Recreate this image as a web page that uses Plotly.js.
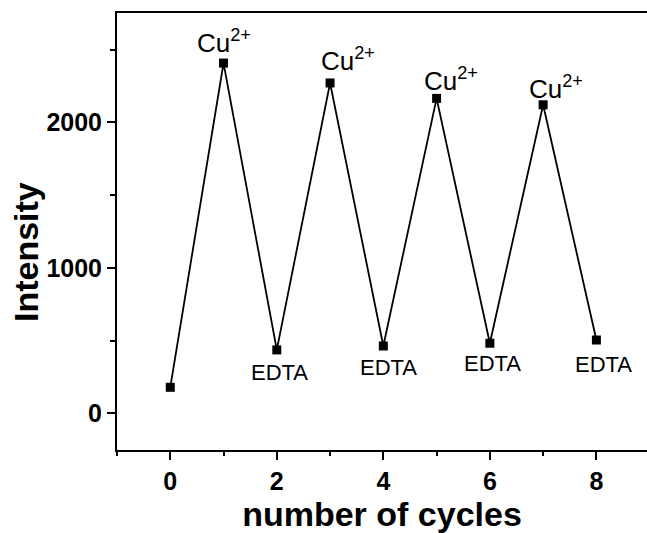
<!DOCTYPE html>
<html>
<head>
<meta charset="utf-8">
<script src="https://cdn.plot.ly/plotly-3.0.1.min.js"></script>
<style>
  html, body { margin: 0; padding: 0; background: #fff; overflow: hidden; }
  #chart { width: 647px; height: 533px; }
</style>
</head>
<body>
<div id="chart"></div>
<script>
// ---- data ----
const cycles    = [0, 1, 2, 3, 4, 5, 6, 7, 8];
const intensity = [179, 2408, 436, 2271, 463, 2165, 482, 2121, 504];
const cuLabel   = "Cu<sup>2+</sup>";
const edtaLabel = "EDTA";
const xTickVals = [0, 2, 4, 6, 8];
const yTickVals = [0, 1000, 2000];
const xTitle = "number of cycles";
const yTitle = "Intensity";

// label placement (pixel offsets from each marker)
const cuOffsets   = [[0, 10], [18, 11.6], [14.5, 7], [13, 5.7]];   // [xshift, baseline above marker]
const edtaOffsets = [[3, 30.7], [5, 30], [3, 28.7], [7, 33.3]];    // [xshift, baseline below marker]

const FONT = "Liberation Sans, Arial, Helvetica, sans-serif";
const cuSize = 26, edtaSize = 22;

const annotations = [];
let ci = 0, ei = 0;
cycles.forEach((c, i) => {
  if (i === 0) return;
  if (i % 2 === 1) {
    const o = cuOffsets[ci++];
    annotations.push({
      x: c, y: intensity[i], xref: "x", yref: "y",
      text: cuLabel, showarrow: false,
      xanchor: "center", yanchor: "bottom",
      xshift: o[0], yshift: o[1] - 0.212 * cuSize - 1,
      font: { family: FONT, size: cuSize, color: "#000" }
    });
  } else {
    const o = edtaOffsets[ei++];
    annotations.push({
      x: c, y: intensity[i], xref: "x", yref: "y",
      text: edtaLabel, showarrow: false,
      xanchor: "center", yanchor: "top",
      xshift: o[0], yshift: -(o[1] - 0.905 * edtaSize - 1) + 2,
      font: { family: FONT, size: edtaSize, color: "#000" }
    });
  }
});

// y-axis title drawn as a rotated annotation so it can sit where the reference has it
annotations.push({
  x: -0.1717, y: 0.453, xref: "paper", yref: "paper",
  text: yTitle, showarrow: false, textangle: -90,
  xanchor: "center", yanchor: "middle",
  font: { family: FONT, size: 34, color: "#000", weight: "bold" }
});

const trace = {
  x: cycles, y: intensity,
  type: "scatter", mode: "lines+markers",
  line: { color: "#000", width: 1.8 },
  marker: { symbol: "square", size: 9, color: "#000" },
  showlegend: false, hoverinfo: "x+y"
};

const layout = {
  width: 647, height: 533,
  margin: { l: 117, r: 0, t: 13, b: 83, pad: 0 },
  paper_bgcolor: "#fff", plot_bgcolor: "#fff",
  font: { family: FONT, color: "#000" },
  showlegend: false,
  xaxis: {
    range: [-1, 8.95],
    tickmode: "array", tickvals: xTickVals,
    ticks: "outside", ticklen: 8, tickwidth: 2, tickcolor: "#000",
    minor: { dtick: 1, tick0: 0, ticks: "outside", ticklen: 4, tickwidth: 2, tickcolor: "#000" },
    showline: true, linewidth: 2, linecolor: "#000", mirror: true,
    showgrid: false, zeroline: false,
    tickfont: { family: FONT, size: 25, color: "#000", weight: "bold" },
    title: { text: xTitle, font: { family: FONT, size: 34, color: "#000", weight: "bold" }, standoff: 4 },
    automargin: false
  },
  yaxis: {
    range: [-252, 2752],
    tickmode: "array", tickvals: yTickVals,
    ticks: "outside", ticklen: 8, tickwidth: 2, tickcolor: "#000",
    minor: { dtick: 500, tick0: 0, ticks: "outside", ticklen: 5, tickwidth: 2, tickcolor: "#000" },
    showline: true, linewidth: 2, linecolor: "#000", mirror: false,
    showgrid: false, zeroline: false,
    tickfont: { family: FONT, size: 25, color: "#000", weight: "bold" },
    automargin: false
  },
  annotations: annotations
};

Plotly.newPlot("chart", [trace], layout, { displayModeBar: false, staticPlot: true });
</script>
</body>
</html>
